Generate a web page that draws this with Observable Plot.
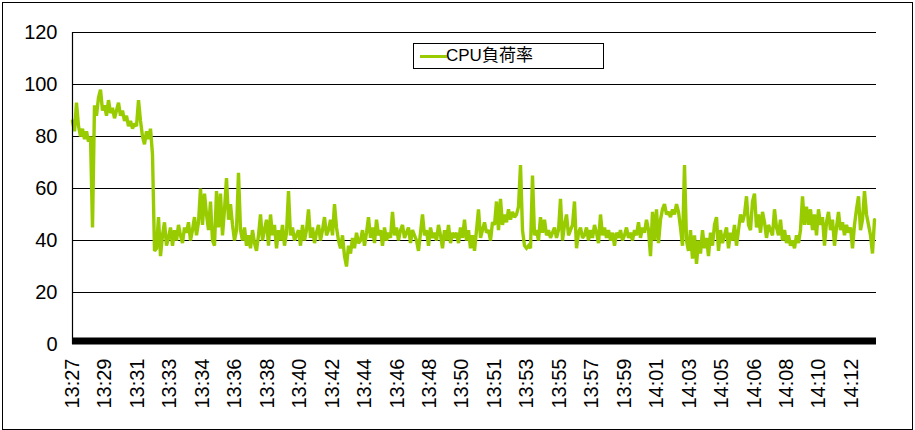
<!DOCTYPE html>
<html><head><meta charset="utf-8">
<script src="https://cdn.jsdelivr.net/npm/d3@7"></script>
<script src="https://cdn.jsdelivr.net/npm/@observablehq/plot@0.6"></script>
<style>
body{margin:0;background:#fff;}
#wrap{position:relative;width:915px;height:430px;overflow:hidden;}
#border{position:absolute;left:2px;top:2px;width:911px;height:428px;border:1px solid #000;box-sizing:border-box;pointer-events:none;}
#legend{position:absolute;left:413px;top:43px;width:191px;height:26px;border:1px solid #000;box-sizing:border-box;background:#fff;font-family:'Liberation Sans',Arial,'Noto Sans CJK JP',sans-serif;font-size:17px;line-height:24px;}
#legend .sw{position:absolute;left:6px;top:11px;width:27px;height:3px;}
#legend .tx{position:absolute;left:32px;top:0;}
</style></head><body><div id="wrap"></div>
<script>
const seriesName = "CPU負荷率";
const seriesColor = "#99cc00";
const timeLabels = ["13:27","13:29","13:31","13:33","13:34","13:36","13:38","13:40","13:42","13:44","13:46","13:48","13:50","13:51","13:53","13:55","13:57","13:59","14:01","14:03","14:05","14:06","14:08","14:10","14:12"];
const yTicks = [0, 20, 40, 60, 80, 100, 120];
const cpuLoad = [
  86, 82, 93, 84, 80, 83, 79, 82, 78, 80, 45, 92, 88, 95, 98, 90,
  92, 88, 94, 89, 91, 87, 90, 93, 88, 90, 86, 88, 84, 86, 83, 85,
  84, 94, 86, 80, 77, 82, 79, 83, 73, 36, 37, 49, 34, 42, 47, 38,
  41, 45, 38, 44, 40, 46, 42, 39, 45, 43, 47, 40, 44, 49, 42, 47,
  60, 46, 58, 50, 44, 55, 40, 38, 59, 45, 58, 42, 52, 64, 48, 54,
  46, 40, 44, 66, 44, 40, 45, 38, 42, 37, 44, 39, 36, 42, 50, 40,
  44, 48, 38, 50, 42, 46, 37, 44, 40, 46, 38, 43, 59, 42, 45, 40,
  42, 44, 38, 46, 40, 44, 52, 41, 45, 39, 43, 46, 40, 44, 49, 42,
  44, 48, 42, 54, 45, 40, 37, 42, 34, 30, 38, 35, 41, 37, 43, 39,
  40, 44, 38, 43, 49, 41, 45, 39, 48, 42, 44, 38, 45, 40, 43, 41,
  51, 42, 45, 40, 44, 46, 41, 43, 45, 39, 44, 42, 40, 36, 43, 50,
  42, 44, 38, 45, 41, 43, 40, 46, 42, 37, 44, 40, 46, 39, 43, 41,
  43, 39, 45, 41, 48, 40, 44, 37, 42, 36, 44, 52, 41, 44, 47, 43,
  44, 40, 47, 46, 55, 44, 56, 46, 50, 47, 52, 48, 51, 49, 50, 53,
  69, 44, 38, 37, 38, 37, 65, 42, 44, 40, 49, 43, 48, 42, 44, 41,
  43, 45, 41, 44, 56, 40, 46, 50, 42, 44, 46, 55, 37, 43, 45, 41,
  42, 45, 40, 44, 41, 46, 43, 39, 50, 42, 45, 41, 44, 40, 43, 38,
  43, 41, 44, 40, 42, 45, 41, 43, 40, 44, 42, 47, 41, 45, 43, 48,
  44, 34, 51, 40, 52, 39, 48, 52, 54, 50, 51, 49, 52, 50, 54, 51,
  45, 38, 69, 40, 36, 44, 33, 42, 31, 40, 35, 44, 37, 41, 34, 43,
  38, 46, 49, 36, 44, 39, 42, 45, 37, 43, 40, 46, 38, 44, 50, 47,
  50, 57, 46, 44, 55, 58, 45, 50, 43, 51, 47, 41, 46, 44, 42, 52,
  45, 42, 48, 40, 44, 39, 42, 38, 40, 37, 42, 39, 44, 57, 46, 53,
  46, 52, 44, 50, 42, 52, 46, 49, 38, 47, 51, 44, 48, 38, 45, 51,
  44, 47, 42, 46, 43, 45, 37, 46, 52, 57, 44, 48, 59, 50, 46, 42, 35, 48
];
const pointsPerLabel = 16.23;

const data = cpuLoad.map((v, i) => ({i, v}));
const tickPos = timeLabels.map((_, k) => k * pointsPerLabel);

const plot = Plot.plot({
  width: 915, height: 430,
  marginLeft: 72, marginRight: 39, marginTop: 32, marginBottom: 86,
  style: {fontFamily: "'Liberation Sans', Arial, sans-serif", fontSize: "20px", color: "#000", background: "#fff"},
  x: {domain: [0, cpuLoad.length], axis: null},
  y: {domain: [0, 120], axis: null},
  marks: [
    Plot.ruleY(yTicks.filter(d => d > 0), {stroke: "#000", strokeWidth: 1}),
    Plot.lineY(data, {x: "i", y: "v", stroke: seriesColor, strokeWidth: 3.4, strokeLinejoin: "miter", strokeMiterlimit: 2}),
    Plot.ruleY([0], {stroke: "#000", strokeWidth: 7, dy: -3.5}),
    Plot.ruleX([0], {stroke: "#000", strokeWidth: 1.2}),
    Plot.axisY({ticks: yTicks, tickSize: 0, tickPadding: 15, fontSize: 20, label: null, tickFormat: d => String(d)}),
    Plot.axisX({ticks: tickPos, tickSize: 0, tickPadding: 14, tickRotate: -90, fontSize: 20, label: null,
      tickFormat: d => timeLabels[Math.round(d / pointsPerLabel)]})
  ]
});
const wrap = document.getElementById("wrap");
wrap.appendChild(plot);
const legend = document.createElement("div");
legend.id = "legend";
legend.innerHTML = `<span class="sw" style="background:${seriesColor}"></span><span class="tx">${seriesName}</span>`;
wrap.appendChild(legend);
const border = document.createElement("div");
border.id = "border";
wrap.appendChild(border);
</script></body></html>
